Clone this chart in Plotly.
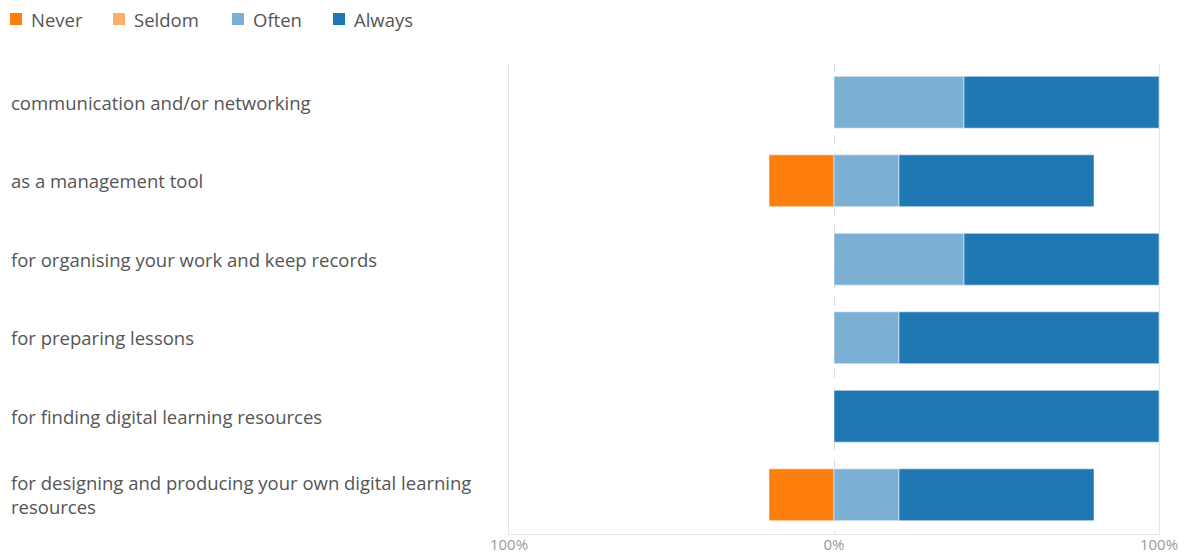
import plotly.graph_objects as go

# Survey items, listed top to bottom
categories = [
    "communication and/or networking",
    "as a management tool",
    "for organising your work and keep records",
    "for preparing lessons",
    "for finding digital learning resources",
    "for designing and producing your own digital learning<br>resources",
]

# Share of answers per frequency (percent); negative side = Never/Seldom
never = [0, 20, 0, 0, 0, 20]
seldom = [0, 0, 0, 0, 0, 0]
often = [40, 20, 40, 20, 0, 20]
always = [60, 60, 60, 80, 100, 60]

tick_vals = [-100, 0, 100]
tick_text = ["100%", "0%", "100%"]

series_names = ["Never", "Seldom", "Often", "Always"]
colors = {
    "Never": "#ff7f0e",
    "Seldom": "#fdae6b",
    "Often": "#7bafd4",
    "Always": "#1f77b4",
}

border = dict(color="rgba(255,255,255,0.5)", width=1)

fig = go.Figure()
# Seldom sits next to zero, Never further out on the negative side
fig.add_trace(go.Bar(y=categories, x=[-v for v in seldom], name="Seldom", orientation="h",
                     marker=dict(color=colors["Seldom"], line=border)))
fig.add_trace(go.Bar(y=categories, x=[-v for v in never], name="Never", orientation="h",
                     marker=dict(color=colors["Never"], line=border)))
fig.add_trace(go.Bar(y=categories, x=often, name="Often", orientation="h",
                     marker=dict(color=colors["Often"], line=border)))
fig.add_trace(go.Bar(y=categories, x=always, name="Always", orientation="h",
                     marker=dict(color=colors["Always"], line=border)))

# Plot-area geometry (pixels) used to place the key and labels in paper units
L, T, W, H = 509, 63, 650, 471


def px_x(x):
    return (x - L) / W


def px_y(y):
    return 1 - (y - T) / H


# Compact key along the top-left edge
key_left = [10, 113, 232, 333]
for name, x0 in zip(series_names, key_left):
    fig.add_shape(type="rect", xref="paper", yref="paper",
                  x0=px_x(x0), x1=px_x(x0 + 12), y0=px_y(25), y1=px_y(13),
                  fillcolor=colors[name], line=dict(width=0))
    fig.add_annotation(text=name, xref="paper", yref="paper", x=px_x(x0 + 19), y=px_y(19),
                       xanchor="left", yanchor="middle", showarrow=False,
                       font=dict(size=18.5, color="#555555"))

# Left-aligned category labels
for c in categories:
    fig.add_annotation(text=c, xref="paper", yref="y", x=px_x(9), y=c,
                       xanchor="left", yanchor="middle", align="left", showarrow=False,
                       font=dict(size=18.5, color="#555555"))

fig.update_layout(
    width=1191, height=553,
    barmode="relative",
    bargap=0.34,
    plot_bgcolor="white", paper_bgcolor="white",
    margin=dict(l=L, r=1191 - L - W, t=T, b=553 - T - H),
    font=dict(family="Open Sans", color="#555555"),
    showlegend=False,
    xaxis=dict(range=[-100, 100], tickvals=tick_vals, ticktext=tick_text,
               showgrid=True, gridcolor="#dddddd", griddash="dash", gridwidth=1,
               zeroline=False, showline=True, linecolor="#e6e6e6", linewidth=1,
               tickfont=dict(size=15, color="#999999"), ticks="", automargin=False,
               ticklabelstandoff=-3),
    yaxis=dict(autorange="reversed", showticklabels=False, showgrid=False,
               showline=True, mirror=True, linecolor="#e6e6e6", linewidth=1,
               zeroline=False, ticks="", automargin=False),
)

fig.write_html("out.html")
